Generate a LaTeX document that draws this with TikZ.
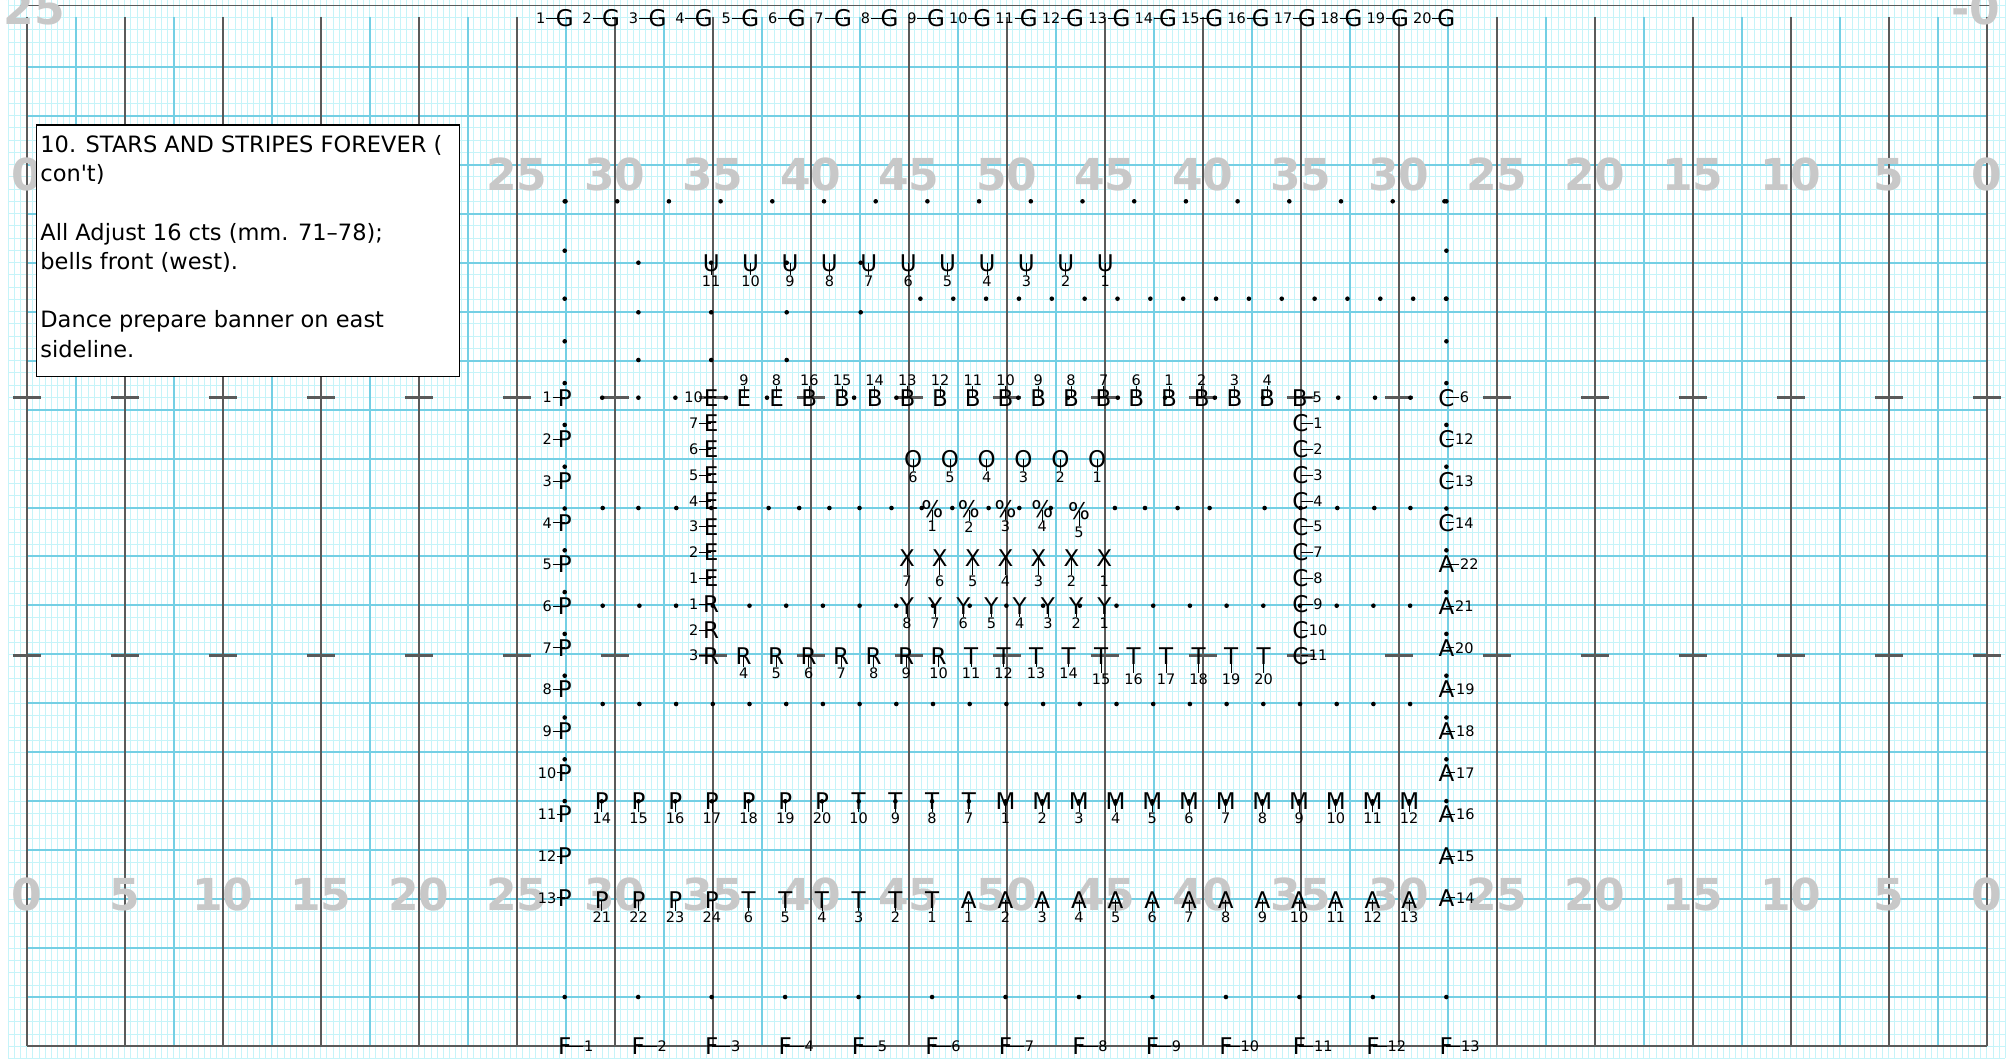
\documentclass[tikz,border=0pt]{standalone}
\usepackage{fontspec}
\setmainfont{DejaVu Sans}
\definecolor{fineC}{RGB}{198,244,249}
\definecolor{blueC}{RGB}{116,207,228}
\definecolor{darkC}{RGB}{90,90,90}
\definecolor{numC}{RGB}{200,200,200}
\tikzset{
  fine/.style={fineC, line width=0.9pt},
  blueline/.style={blueC, line width=2pt},
  darkline/.style={darkC, line width=1.5pt},
  hashbar/.style={darkC, line width=3pt},
  ydnum/.style={text=numC, font=\fontsize{44}{44}\selectfont\bfseries, inner sep=0pt},
  sym/.style={font=\fontsize{23}{23}\selectfont, inner sep=0pt},
  lab/.style={font=\fontsize{14.5}{14.5}\selectfont, inner sep=0.6pt},
  leader/.style={black, line width=0.7pt},
  boxtxt/.style={font=\fontsize{22.5}{29}\selectfont, inner sep=0pt, anchor=base west},
}
\newcommand\sy[7]{%
  \node[sym] (#1) at ({#2},{#3}) {#4};
  \node[lab] (l#1) at ({#2+(#6)},{#3+(#7)}) {#5};
  \draw[leader] (l#1) -- (#1.center);
}
\newcommand\drdot[2]{\fill ({#1},{#2}) circle[radius=2.3];}
\begin{document}
\begin{tikzpicture}[x=1pt,y=-1pt]
\useasboundingbox (0,0) rectangle (2013,1058);
\clip (0,0) rectangle (2013,1058);
% fine grid
\foreach \i in {-3,...,323} {\draw[fine] ({26.8+6.125*\i},0) -- ({26.8+6.125*\i},1058);}
\foreach \i in {-1,...,85} {\draw[fine] (8.4,{1046.28-12.245*\i}) -- (2005.2,{1046.28-12.245*\i});}
% blue lines
\foreach \k in {1,3,...,39} {\draw[blueline] ({26.8+49*\k},16.7) -- ({26.8+49*\k},1046.3);}
\foreach \k in {1,...,20} {\draw[blueline] (26.8,{1046.28-48.98*\k}) -- (1986.8,{1046.28-48.98*\k});}
% dark lines
\foreach \k in {0,2,...,40} {\draw[darkline] ({26.8+49*\k},16.7) -- ({26.8+49*\k},1046.3);}
\draw[darkline,line width=1.2pt] (20,5.7) -- (1990,5.7);
\draw[darkline,line width=2.2pt] (26.8,1046.3) -- (1986.8,1046.3);
% hash marks
\foreach \k in {0,...,20} {
  \draw[hashbar] ({26.8+98*\k-14},397.7) -- ({26.8+98*\k+14},397.7);
  \draw[hashbar] ({26.8+98*\k-14},655) -- ({26.8+98*\k+14},655);}
% yard numbers
\foreach \v [count=\k from 0] in {0,5,10,15,20,25,30,35,40,45,50,45,40,35,30,25,20,15,10,5,0} {
  \node[ydnum] (yu\k) at ({26.8+98*\k},174.5) {\v};
  \node[ydnum] (yl\k) at ({26.8+98*\k},894.5) {\v};}
\node[ydnum] (ytl) at (34,8.8) {25};
\node[ydnum] (ytr) at (1976,8.8) {-0};
% dots
\foreach \y in {201.3,250.7,298.7,341.3,383.1,424.9,466.7,508.5,550.3,592.1,633.9,675.7,717.5,759.3,801.1} {\drdot{564.7}{\y}\drdot{1446.4}{\y}}
\foreach \k in {0,...,17} {\drdot{565.5+51.7*\k}{201.3}}
\foreach \k in {0,...,16} {\drdot{920.4+32.85*\k}{298.7}}
\foreach \a/\b in {638.4/262.7,638.4/312.3,638.4/360,711.2/262.7,711.2/312.3,711.2/360,786.7/262.7,786.7/312.3,786.7/360,860.7/262.7,860.7/312.3} {\drdot{\a}{\b}}
\foreach \a in {602.2,638.4,675.4,725.8,767,854.1,896.4,1018.3,1068,1117.8,1165,1214.8,1263,1338.2,1375,1410.4} {\drdot{\a}{397.7}}
\foreach \a in {602.7,638.4,676.3,711.2,768.6,799.2,829.4,859.5,891.5,921.7,952.3,988.6,1019.3,1050.8,1114.9,1145,1177.6,1209.6,1264.6,1300.5,1337.3,1374.3,1410.4} {\drdot{\a}{508}}
\foreach \k in {0,...,22} {\drdot{602.7+36.7*\k}{605.7}\drdot{602.7+36.7*\k}{704}\drdot{601.8+36.7*\k}{801.3}}
\foreach \k in {0,...,12} {\drdot{564.7+73.47*\k}{997}}
% G row
\foreach \k in {1,...,20} {\sy{g\k}{564.7+46.4*(\k-1)}{18.5}{G}{\k}{-24}{0}}
% left P column
\foreach \k in {1,...,13} {\sy{p\k}{564.7}{397.7+41.67*(\k-1)}{P}{\k}{-17.5}{0}}
% right column
\foreach \l/\n/\d [count=\k from 0] in {C/6/18,C/12/18,C/13/18,C/14/18,A/22/23,A/21/18,A/20/18,A/19/19,A/18/19,A/17/19,A/16/19,A/15/19,A/14/19} {\sy{rc\k}{1446.4}{397.7+41.67*\k}{\l}{\n}{\d}{0}}
% U row
\foreach \n [count=\k from 0] in {11,10,...,1} {\sy{u\n}{711.2+39.4*\k}{263}{U}{\n}{0}{18}}
% hash row
\sy{e10}{711.2}{397.7}{E}{10}{-17.5}{0}
\foreach \l/\n [count=\k from 1] in {E/9,E/8,B/16,B/15,B/14,B/13,B/12,B/11,B/10,B/9,B/8,B/7,B/6,B/1,B/2,B/3,B/4} {\sy{h\k}{711.2+32.7*\k}{397.7}{\l}{\n}{0}{-17.7}}
\sy{b5}{1299.8}{397.7}{B}{5}{17.5}{0}
% E column
\foreach \l/\n [count=\k from 1] in {E/7,E/6,E/5,E/4,E/3,E/2,E/1,R/1,R/2,R/3} {\sy{ec\k}{711.2}{397.7+25.8*\k}{\l}{\n}{-17.5}{0}}
% C column
\foreach \n [count=\k from 1] in {1,2,3,4,5,7,8,9,10,11} {\sy{cc\k}{1300.5}{397.7+25.8*\k}{C}{\n}{17.5}{0}}
% O row
\foreach \n [count=\k from 0] in {6,5,...,1} {\sy{o\n}{913.1+36.8*\k}{459}{O}{\n}{0}{18.5}}
% percent row
\foreach \n [count=\k from 0] in {1,2,3,4} {\sy{pc\n}{932.2+36.7*\k}{509.5}{\%}{\n}{0}{17.2}}
\sy{pc5}{1079}{510.8}{\%}{5}{0}{21.7}
% X row
\foreach \n [count=\k from 0] in {7,6,...,1} {\sy{x\n}{906.9+32.9*\k}{557.8}{X}{\n}{0}{23.5}}
% Y row
\foreach \n [count=\k from 0] in {8,7,...,1} {\sy{y\n}{906.9+28.2*\k}{605.7}{Y}{\n}{0}{17.6}}
% R/T row
\foreach \l/\n [count=\k from 1] in {R/4,R/5,R/6,R/7,R/8,R/9,R/10,T/11,T/12,T/13,T/14} {\sy{r\k}{711.2+32.5*\k}{655.7}{\l}{\n}{0}{17.6}}
\foreach \n [count=\k from 12] in {15,...,20} {\sy{tt\n}{711.2+32.5*\k}{655.7}{T}{\n}{0}{23.3}}
% P14 / M row
\foreach \l/\n [count=\k from 0] in {P/14,P/15,P/16,P/17,P/18,P/19,P/20,T/10,T/9,T/8,T/7,M/1,M/2,M/3,M/4,M/5,M/6,M/7,M/8,M/9,M/10,M/11,M/12} {\sy{m\k}{601.8+36.7*\k}{801}{\l}{\n}{0}{17.5}}
% bottom row
\foreach \l/\n [count=\k from 0] in {P/21,P/22,P/23,P/24,T/6,T/5,T/4,T/3,T/2,T/1,A/1,A/2,A/3,A/4,A/5,A/6,A/7,A/8,A/9,A/10,A/11,A/12,A/13} {\sy{a\k}{601.8+36.7*\k}{900}{\l}{\n}{0}{17.3}}
% F row
\foreach \k in {1,...,13} {\sy{f\k}{564.7+73.47*(\k-1)}{1046.3}{F}{\k}{24}{0}}
% text box
\node[draw=black, line width=1.4pt, fill=white, minimum width=422.8pt, minimum height=251.7pt, inner sep=0pt, anchor=north west] (box) at (35.7,124.3) {};
\node[boxtxt] (txt1) at (40.2,152.7) {10. STARS AND STRIPES FOREVER (};
\node[boxtxt] (txt2) at (40.2,181.9) {con\textquotesingle t)};
\node[boxtxt] (txt3) at (40.2,240.3) {All Adjust 16 cts (mm. 71\textendash78);};
\node[boxtxt] (txt4) at (40.2,269.5) {bells front (west).};
\node[boxtxt] (txt5) at (40.2,327.9) {Dance prepare banner on east};
\node[boxtxt] (txt6) at (40.2,357.1) {sideline.};
\end{tikzpicture}
\end{document}
